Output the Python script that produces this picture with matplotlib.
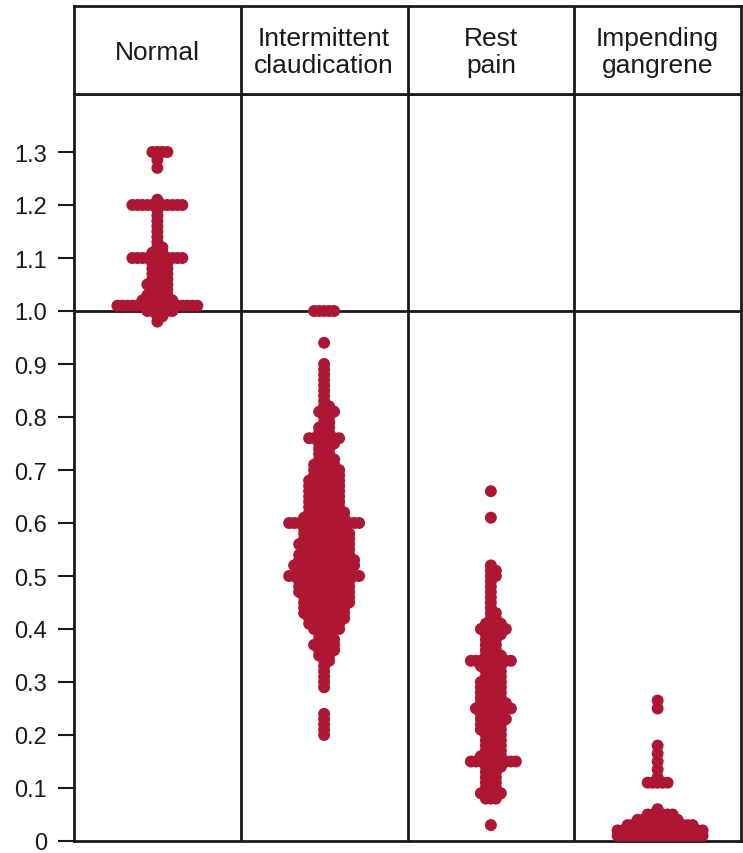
import matplotlib
matplotlib.use("Agg")
import matplotlib.pyplot as plt
import numpy as np

plt.rcParams['font.family'] = ['Liberation Sans', 'DejaVu Sans']

DOT_COLOR = '#ae1733'
LINE_COLOR = '#1a1a1a'

GROUPS = ['Normal', 'Intermittent\nclaudication', 'Rest\npain', 'Impending\ngangrene']

# Ankle-brachial index readings, as (value, how many patients) per group
NORMAL_ABI = [1.30, 1.285, 1.27, 1.21, 1.20, 1.19, 1.18, 1.17, 1.16, 1.15, 1.14, 1.13,
              1.12, 1.11, 1.10, 1.09, 1.08, 1.07, 1.06, 1.05, 1.04, 1.03, 1.02, 1.01,
              1.00, 0.99, 0.98]
NORMAL_N = [4, 1, 1, 1, 11, 1, 1, 1, 1, 1, 1, 1,
            2, 3, 11, 4, 4, 4, 4, 5, 4, 5, 7, 17,
            6, 2, 1]

CLAUD_ABI = [1.00, 0.94, 0.90, 0.89, 0.88, 0.87, 0.86, 0.85, 0.84, 0.83, 0.82, 0.81,
             0.80, 0.79, 0.78, 0.77, 0.76, 0.75, 0.74, 0.73, 0.72, 0.71, 0.70, 0.69,
             0.68, 0.67, 0.66, 0.65, 0.64, 0.63, 0.62, 0.61, 0.60, 0.59, 0.58, 0.57,
             0.56, 0.55, 0.54, 0.53, 0.52, 0.51, 0.50, 0.49, 0.48, 0.47, 0.46, 0.45,
             0.44, 0.43, 0.42, 0.41, 0.40, 0.39, 0.38, 0.37, 0.36, 0.35, 0.34, 0.33,
             0.32, 0.31, 0.30, 0.29, 0.24, 0.23, 0.22, 0.21, 0.20]
CLAUD_N = [5, 1, 1, 1, 1, 1, 1, 1, 1, 1, 2, 4,
           2, 2, 3, 3, 7, 4, 3, 3, 4, 5, 6, 6,
           7, 7, 7, 7, 7, 7, 8, 9, 15, 9, 10, 10,
           11, 10, 11, 12, 13, 11, 15, 11, 11, 11, 10, 10,
           9, 9, 8, 7, 6, 3, 4, 5, 4, 3, 2, 1,
           1, 1, 1, 1, 1, 1, 1, 1, 1]

REST_ABI = [0.66, 0.61, 0.52, 0.51, 0.50, 0.49, 0.48, 0.47, 0.46, 0.45, 0.44, 0.43,
            0.42, 0.41, 0.40, 0.39, 0.38, 0.37, 0.36, 0.35, 0.34, 0.33, 0.32, 0.31,
            0.30, 0.29, 0.28, 0.27, 0.26, 0.25, 0.24, 0.23, 0.22, 0.21, 0.20, 0.19,
            0.18, 0.17, 0.16, 0.15, 0.14, 0.13, 0.12, 0.11, 0.10, 0.09, 0.08, 0.03]
REST_N = [1, 1, 1, 2, 2, 1, 1, 1, 1, 1, 1, 2,
          2, 4, 6, 4, 3, 3, 3, 4, 9, 5, 4, 4,
          5, 5, 5, 5, 6, 8, 5, 6, 5, 5, 4, 4,
          4, 4, 5, 10, 4, 3, 3, 3, 3, 5, 3, 1]

GANGRENE_ABI = [0.265, 0.25, 0.18, 0.165, 0.15, 0.135, 0.12, 0.11,
                0.06, 0.05, 0.04, 0.03, 0.02, 0.01]
GANGRENE_N = [1, 1, 1, 1, 1, 1, 1, 5,
              1, 6, 9, 14, 18, 18]

SERIES = [(NORMAL_ABI, NORMAL_N), (CLAUD_ABI, CLAUD_N),
          (REST_ABI, REST_N), (GANGRENE_ABI, GANGRENE_N)]

Y_TICKS = [0, 0.1, 0.2, 0.3, 0.4, 0.5, 0.6, 0.7, 0.8, 0.9, 1.0, 1.1, 1.2, 1.3]
Y_LABELS = ['0', '0.1', '0.2', '0.3', '0.4', '0.5', '0.6', '0.7', '0.8', '0.9',
            '1.0', '1.1', '1.2', '1.3']


def swarm_offsets(ax, center, values, min_gap=5.0, step=0.5):
    """Pack points sideways (in pixels) so no two centres sit closer than min_gap."""
    pts = ax.transData.transform(np.column_stack([np.full(len(values), center), values]))
    x0 = ax.transData.transform((center, 0))[0]
    x1 = ax.transData.transform((center + 1, 0))[0]
    px_per_unit = x1 - x0
    placed_x, placed_y = [], []
    offsets = []
    for y in pts[:, 1]:
        k = 0
        found = None
        while found is None:
            cands = (0.0,) if k == 0 else (k * step, -k * step)
            for off in cands:
                if not placed_x:
                    found = off
                    break
                d2 = (np.array(placed_x) - off) ** 2 + (np.array(placed_y) - y) ** 2
                if d2.min() >= min_gap ** 2:
                    found = off
                    break
            k += 1
        placed_x.append(found)
        placed_y.append(y)
        offsets.append(found / px_per_unit)
    return center + np.array(offsets)


fig = plt.figure(figsize=(7.43, 8.54), dpi=100)
W, H = 743, 854
left, right, top, bottom, head_top = 74, 741, 95, 842, 7

ax = fig.add_axes([left / W, (H - bottom) / H, (right - left) / W, (bottom - top) / H])
head = fig.add_axes([left / W, (H - top) / H, (right - left) / W, (top - head_top) / H])

ax.set_xlim(0, 4)
ax.set_ylim(0, (bottom - top) / 530)

for spine in ax.spines.values():
    spine.set_linewidth(2)
    spine.set_color(LINE_COLOR)
for spine in head.spines.values():
    spine.set_linewidth(2)
    spine.set_color(LINE_COLOR)

for i in range(1, 4):
    ax.axvline(i, color=LINE_COLOR, lw=2)
    head.axvline(i, color=LINE_COLOR, lw=2)
ax.axhline(1.0, color=LINE_COLOR, lw=2)

ax.set_xticks([])
ax.set_yticks(Y_TICKS)
ax.set_yticklabels(Y_LABELS)
ax.tick_params(axis='y', length=11.5, width=1.5, pad=8, labelsize=17,
               color=LINE_COLOR, labelcolor=LINE_COLOR)

head.set_xlim(0, 4)
head.set_ylim(0, 1)
head.set_xticks([])
head.set_yticks([])
for i, name in enumerate(GROUPS):
    head.text(i + 0.5, 0.48, name, ha='center', va='center', fontsize=19,
              color=LINE_COLOR, linespacing=1.15)

for i, (vals, counts) in enumerate(SERIES):
    yv = np.repeat(vals, counts)
    xv = swarm_offsets(ax, i + 0.5, yv)
    ax.scatter(xv, yv, s=74, color=DOT_COLOR, edgecolors='none', zorder=3, clip_on=False)

fig.savefig('out.png', dpi=100)
